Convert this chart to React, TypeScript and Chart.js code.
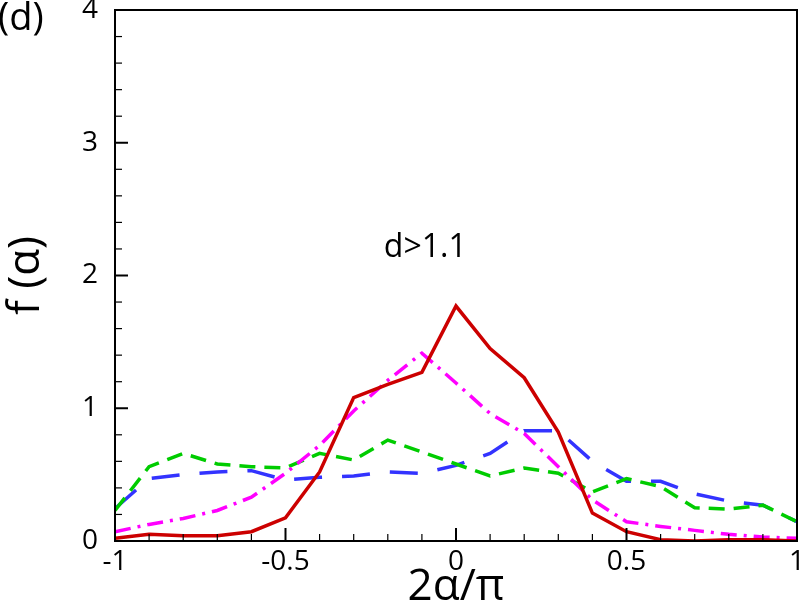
import React, { useEffect, useRef } from "react";
import { Chart, registerables } from "chart.js";

Chart.register(...registerables);

const xValues = [-1, -0.9, -0.8, -0.7, -0.6, -0.5, -0.4, -0.3, -0.2, -0.1, 0, 0.1, 0.2, 0.3, 0.4, 0.5, 0.6, 0.7, 0.8, 0.9, 1];
const redValues = [0.02, 0.05, 0.04, 0.04, 0.07, 0.175, 0.52, 1.08, 1.18, 1.27, 1.77, 1.45, 1.23, 0.82, 0.21, 0.07, 0.01, 0.0, 0.01, 0.01, 0.0];
const magentaValues = [0.07, 0.125, 0.17, 0.23, 0.33, 0.51, 0.72, 0.98, 1.21, 1.415, 1.19, 0.96, 0.81, 0.56, 0.31, 0.145, 0.11, 0.08, 0.05, 0.03, 0.02];
const greenValues = [0.23, 0.56, 0.66, 0.58, 0.56, 0.55, 0.66, 0.61, 0.76, 0.67, 0.58, 0.49, 0.55, 0.51, 0.37, 0.47, 0.41, 0.25, 0.24, 0.27, 0.145];
const blueValues = [0.245, 0.47, 0.5, 0.52, 0.53, 0.46, 0.48, 0.49, 0.52, 0.51, 0.57, 0.66, 0.83, 0.83, 0.6, 0.45, 0.45, 0.355, 0.3, 0.27, 0.145];

const xMin = -1;
const xMax = 1;
const yMin = 0;
const yMax = 4;
const xMajorStep = 0.5;
const xMinorStep = 0.1;
const yMajorStep = 1;
const yMinorStep = 0.2;

const panelLabel = "(d)";
const annotation = "d>1.1";
const xTitle = "2α/π";
const yTitle = "f (α)";

const FONT = "'Open Sans', 'Noto Sans', sans-serif";

const toPoints = (ys: number[]) => xValues.map((x, i) => ({ x, y: ys[i] }));
const fmt = (v: any) => String(Number(Number(v).toFixed(2)));

const frameAndTicks = {
  id: "frameAndTicks",
  afterDatasetsDraw(chart: any) {
    const { ctx, chartArea } = chart;
    const xs = chart.scales.x;
    const ys = chart.scales.y;
    ctx.save();
    ctx.strokeStyle = "#000";
    ctx.lineCap = "butt";
    const nY = Math.round((yMax - yMin) / yMinorStep);
    for (let i = 0; i <= nY; i++) {
      const v = yMin + i * yMinorStep;
      const major = Math.abs(v / yMajorStep - Math.round(v / yMajorStep)) < 1e-6;
      const py = ys.getPixelForValue(v);
      ctx.lineWidth = major ? 2 : 1.2;
      ctx.beginPath();
      ctx.moveTo(chartArea.left, py);
      ctx.lineTo(chartArea.left + (major ? 13 : 7), py);
      ctx.stroke();
    }
    const nX = Math.round((xMax - xMin) / xMinorStep);
    for (let i = 0; i <= nX; i++) {
      const v = xMin + i * xMinorStep;
      const major = Math.abs(v / xMajorStep - Math.round(v / xMajorStep)) < 1e-6;
      const px = xs.getPixelForValue(v);
      ctx.lineWidth = major ? 2 : 1.2;
      ctx.beginPath();
      ctx.moveTo(px, chartArea.bottom);
      ctx.lineTo(px, chartArea.bottom - (major ? 13 : 7));
      ctx.stroke();
    }
    ctx.lineWidth = 2;
    ctx.strokeRect(chartArea.left, chartArea.top, chartArea.right - chartArea.left, chartArea.bottom - chartArea.top);
    ctx.fillStyle = "#000";
    ctx.textBaseline = "middle";
    ctx.textAlign = "left";
    ctx.font = `38px ${FONT}`;
    ctx.fillText(panelLabel, -2, 19);
    ctx.textAlign = "center";
    ctx.font = `32px ${FONT}`;
    ctx.fillText(annotation, xs.getPixelForValue(-0.09), ys.getPixelForValue(2.21));
    ctx.restore();
  },
};

export default function App() {
  const ref = useRef<HTMLCanvasElement | null>(null);
  useEffect(() => {
    if (!ref.current) return;
    const chart = new Chart(ref.current, {
      type: "line",
      data: {
        datasets: [
          {
            label: "red",
            data: toPoints(redValues),
            borderColor: "#cc0000",
            borderWidth: 3.5,
            pointRadius: 0,
            tension: 0,
            order: 0,
          },
          {
            label: "magenta",
            data: toPoints(magentaValues),
            borderColor: "#ff00ff",
            borderWidth: 3.5,
            borderDash: [16, 7, 3, 7],
            pointRadius: 0,
            tension: 0,
            order: 1,
          },
          {
            label: "green",
            data: toPoints(greenValues),
            borderColor: "#00cc00",
            borderWidth: 3.5,
            borderDash: [16, 9],
            pointRadius: 0,
            tension: 0,
            order: 2,
          },
          {
            label: "blue",
            data: toPoints(blueValues),
            borderColor: "#3333ff",
            borderWidth: 3.5,
            borderDash: [28, 20],
            pointRadius: 0,
            tension: 0,
            order: 3,
          },
        ],
      },
      options: {
        responsive: false,
        animation: false,
        devicePixelRatio: 1,
        layout: { padding: { left: 0, right: 3, top: 10, bottom: 0 } },
        plugins: { legend: { display: false }, tooltip: { enabled: false }, title: { display: false } },
        scales: {
          x: {
            type: "linear",
            min: xMin,
            max: xMax,
            grid: { display: false, drawTicks: false },
            border: { display: false },
            ticks: {
              stepSize: xMajorStep,
              color: "#000",
              padding: 4,
              maxRotation: 0,
              font: { family: FONT, size: 28 },
              callback: (v: any) => fmt(v),
            },
            title: {
              display: true,
              text: xTitle,
              color: "#000",
              font: { family: FONT, size: 44, lineHeight: 1 },
              padding: { top: 0, bottom: 0 },
            },
            afterFit: (s: any) => {
              s.height = 68;
              s.paddingLeft = 0;
              s.paddingRight = 0;
            },
          },
          y: {
            type: "linear",
            min: yMin,
            max: yMax,
            grid: { display: false, drawTicks: false },
            border: { display: false },
            ticks: {
              stepSize: yMajorStep,
              color: "#000",
              padding: 17,
              font: { family: FONT, size: 28 },
              callback: (v: any) => fmt(v),
            },
            title: {
              display: true,
              text: yTitle,
              color: "#000",
              font: { family: FONT, size: 44, lineHeight: 1 },
              padding: { top: 4, bottom: 0 },
            },
            afterFit: (s: any) => {
              s.width = 115;
              s.paddingTop = 0;
              s.paddingBottom = 0;
            },
          },
        },
      },
      plugins: [frameAndTicks],
    });
    return () => chart.destroy();
  }, []);
  return (
    <div style={{ position: "absolute", left: 0, top: 0, width: 800, height: 609, background: "#fff" }}>
      <canvas ref={ref} width={800} height={609} />
    </div>
  );
}
